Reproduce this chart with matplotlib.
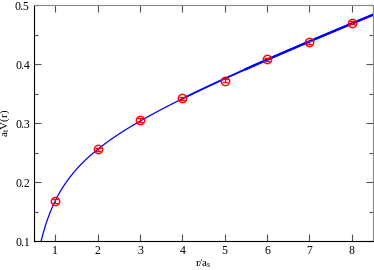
import matplotlib
matplotlib.use("Agg")
import matplotlib.pyplot as plt
import numpy as np
from matplotlib.ticker import MultipleLocator

r_vals = [1, 2, 3, 4, 5, 6, 7, 8]
v_vals = [0.168, 0.2555, 0.305, 0.342, 0.372, 0.408, 0.437, 0.4705]
v_errs = [0.003, 0.003, 0.003, 0.003, 0.003, 0.003, 0.003, 0.003]

# Cornell-type fit V = c + s*r - e/r from the data points
r_arr = np.array(r_vals, dtype=float)
basis = np.column_stack([np.ones_like(r_arr), r_arr, -1.0 / r_arr])
coef, *_ = np.linalg.lstsq(basis, np.array(v_vals), rcond=None)


def cornell(r):
    return coef[0] + coef[1] * r - coef[2] / r


plt.rcParams["font.family"] = ["Liberation Serif", "DejaVu Serif"]
plt.rcParams["mathtext.fontset"] = "stix"

fig = plt.figure(figsize=(3.74, 2.70), dpi=100)
ax = fig.add_axes([0.091, 0.107, 0.906, 0.874])

r_fine = np.linspace(0.5, 8.5, 400)
ax.plot(r_fine, cornell(r_fine), color="blue", lw=0.9, zorder=2)
# thicker overlay over the far range, widening towards the right
r_thick = np.linspace(4.0, 8.5, 100)
ax.plot(r_thick, cornell(r_thick), color="blue", lw=1.4, alpha=0.8, zorder=2)
r_thick2 = np.linspace(5.5, 8.5, 100)
ax.plot(r_thick2, cornell(r_thick2), color="blue", lw=1.7, zorder=2)

ax.errorbar(r_vals, v_vals, yerr=v_errs, fmt="o", mfc="none", mec="red",
            ecolor="red", mew=1.0, ms=6, capsize=2, elinewidth=0.8, zorder=3)

ax.set_xlim(0.5, 8.5)
ax.set_ylim(0.1, 0.5)
ax.xaxis.set_major_locator(MultipleLocator(1))
ax.yaxis.set_major_locator(MultipleLocator(0.1))
ax.yaxis.set_minor_locator(MultipleLocator(0.05))
ax.tick_params(which="both", direction="in", top=True, right=True, labelsize=8.5, pad=3)
ax.tick_params(which="major", length=5, width=0.8, color="#555555")
ax.tick_params(which="minor", length=3, width=0.8, color="#555555")
for side in ["top", "right"]:
    ax.spines[side].set_color("#888888")
for side in ["left", "bottom"]:
    ax.spines[side].set_color("black")

ax.set_xlabel(r"r/a$_\mathregular{s}$", fontsize=8, labelpad=0)
ax.set_ylabel(r"a$_\mathregular{t}$V(r)", fontsize=8, labelpad=2)

fig.savefig("out.png", dpi=100)
